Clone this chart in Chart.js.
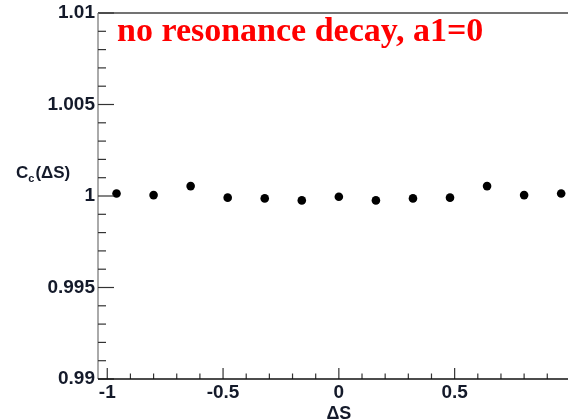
<!DOCTYPE html>
<html>
<head>
<meta charset="utf-8">
<script src="https://cdn.jsdelivr.net/npm/chart.js@4.4.0/dist/chart.umd.min.js"></script>
<style>
  html, body { margin: 0; padding: 0; background: #fff; overflow: hidden; }
  #wrap { width: 568px; height: 420px; overflow: hidden; }
</style>
</head>
<body>
<div id="wrap"><canvas id="myChart" width="584" height="420"></canvas></div>
<script>
// bin centres of delta S and the correlator value in each bin
const deltaS = [-0.96, -0.8, -0.64, -0.48, -0.32, -0.16, 0, 0.16, 0.32, 0.48, 0.64, 0.8, 0.96];
const corr = [1.00014, 1.00005, 1.00054, 0.99991, 0.99987, 0.99976, 0.99996, 0.99976, 0.99987, 0.99991, 1.00054, 1.00005, 1.00014];

const xTickLabels = [-1, -0.5, 0, 0.5];
const yTickLabels = [0.99, 0.995, 1, 1.005, 1.01];

const labelColor = "#141a2a";

// ROOT-like frame: ticks drawn inside, titles placed by hand
const frame = {
  id: "frame",
  afterDraw(chart) {
    const ctx = chart.ctx;
    const xs = chart.scales.x;
    const ys = chart.scales.y;
    const a = chart.chartArea;
    ctx.save();

    // top border
    ctx.strokeStyle = "#444";
    ctx.lineWidth = 1.5;
    ctx.beginPath();
    ctx.moveTo(a.left, a.top);
    ctx.lineTo(a.right, a.top);
    ctx.stroke();

    // left axis
    ctx.strokeStyle = "#aaa";
    ctx.lineWidth = 2;
    ctx.beginPath();
    ctx.moveTo(a.left, a.top);
    ctx.lineTo(a.left, a.bottom);
    ctx.stroke();

    // y ticks
    ctx.strokeStyle = "#333";
    ctx.lineWidth = 1.2;
    for (let k = 0; k <= 20; k++) {
      const py = ys.getPixelForValue(0.99 + k * 0.001);
      const len = k % 5 === 0 ? 16 : 8;
      ctx.beginPath();
      ctx.moveTo(a.left, py);
      ctx.lineTo(a.left + len, py);
      ctx.stroke();
    }

    // x ticks
    for (let k = -10; k <= 10; k++) {
      const px = xs.getPixelForValue(k / 10);
      const len = k % 5 === 0 ? 11 : 5.5;
      ctx.beginPath();
      ctx.moveTo(px, a.bottom);
      ctx.lineTo(px, a.bottom - len);
      ctx.stroke();
    }

    // bottom axis
    ctx.strokeStyle = "#111";
    ctx.lineWidth = 1.5;
    ctx.beginPath();
    ctx.moveTo(a.left, a.bottom);
    ctx.lineTo(a.right, a.bottom);
    ctx.stroke();

    // axis titles
    ctx.fillStyle = labelColor;
    ctx.textBaseline = "alphabetic";
    ctx.textAlign = "left";
    ctx.font = "bold 17px Liberation Sans, Arial, sans-serif";
    ctx.fillText("C", 16, 178);
    let w = ctx.measureText("C").width;
    ctx.font = "bold 11px Liberation Sans, Arial, sans-serif";
    ctx.fillText("c", 16 + w, 182);
    const ws = ctx.measureText("c").width;
    ctx.font = "bold 17px Liberation Sans, Arial, sans-serif";
    ctx.fillText("(\u0394S)", 16 + w + ws + 1, 178);

    ctx.textAlign = "center";
    ctx.font = "bold 18px Liberation Sans, Arial, sans-serif";
    ctx.fillText("\u0394S", xs.getPixelForValue(0), 419);

    // red title
    ctx.fillStyle = "#ff0000";
    ctx.textAlign = "left";
    ctx.font = "bold 34px Liberation Serif, Times New Roman, serif";
    ctx.fillText("no resonance decay, a1=0", 117, 41);

    ctx.restore();
  }
};

new Chart(document.getElementById("myChart"), {
  type: "scatter",
  data: {
    datasets: [
      {
        data: deltaS.map((x, i) => ({ x: x, y: corr[i] })),
        backgroundColor: "#000",
        borderWidth: 0,
        pointRadius: 4.3,
        pointHoverRadius: 4.3,
      },
    ],
  },
  options: {
    responsive: false,
    animation: false,
    layout: { padding: { top: 13, left: 0, right: 2, bottom: 0 } },
    plugins: {
      legend: { display: false },
      tooltip: { enabled: false },
    },
    scales: {
      x: {
        type: "linear",
        min: -1.04,
        max: 1.04,
        grid: { display: false, drawTicks: false },
        border: { display: false },
        afterBuildTicks: (scale) => {
          scale.ticks = xTickLabels.map((v) => ({ value: v }));
        },
        afterFit: (scale) => {
          scale.height = 41;
        },
        ticks: {
          font: { family: "Liberation Sans, Arial, sans-serif", size: 19, weight: "bold" },
          color: labelColor,
          padding: 2,
          maxRotation: 0,
          autoSkip: false,
          callback: (v) => String(v),
        },
      },
      y: {
        type: "linear",
        min: 0.99,
        max: 1.01,
        grid: { display: false, drawTicks: false },
        border: { display: false },
        afterBuildTicks: (scale) => {
          scale.ticks = yTickLabels.map((v) => ({ value: v }));
        },
        afterFit: (scale) => {
          scale.width = 98;
        },
        ticks: {
          font: { family: "Liberation Sans, Arial, sans-serif", size: 19, weight: "bold", lineHeight: 1.0 },
          color: labelColor,
          padding: 3,
          autoSkip: false,
          callback: (v) => String(Number(v.toFixed(3))),
        },
      },
    },
  },
  plugins: [frame],
});
</script>
</body>
</html>
